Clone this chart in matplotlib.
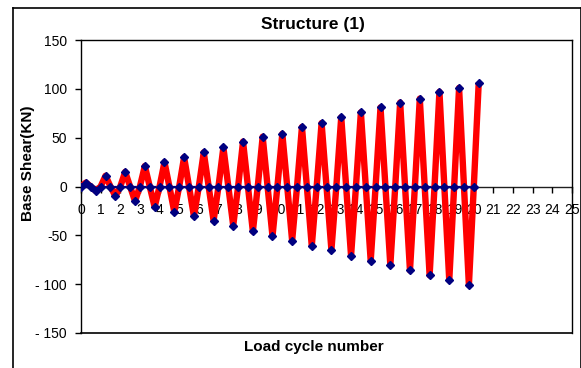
import numpy as np
import matplotlib
matplotlib.use("Agg")
import matplotlib.pyplot as plt
from matplotlib.lines import Line2D

plt.rcParams['font.family'] = ['Liberation Sans', 'DejaVu Sans']

# ---- data ----
cycles = list(range(21))                      # load cycle index 0..20
pos_peak = [4, 11, 15, 21, 25, 30, 35, 40, 46, 51, 54, 61, 65, 71, 76, 81, 86, 90, 97, 101, 106]
neg_peak = [-4.5, -10, -15, -21, -26, -30.5, -35, -40, -46, -51, -55.5, -61, -65, -71, -76, -80.5, -86, -91, -96, -101]
x_ticks = list(range(0, 26))
y_ticks = [-150, -100, -50, 0, 50, 100, 150]
y_tick_labels = ['- 150', '- 100', '-50', '0', '50', '100', '150']

# build the load path: 0 -> +peak -> 0 -> -peak -> 0 per cycle
xs, ys = [], []
for k in cycles:
    xs.append(k); ys.append(0)
    xs.append(k + 0.25); ys.append(pos_peak[k])
    if k < len(neg_peak):
        xs.append(k + 0.5); ys.append(0)
        xs.append(k + 0.75); ys.append(neg_peak[k])
xs = np.array(xs); ys = np.array(ys)

W, H = 581, 368
fig = plt.figure(figsize=(W / 100, H / 100), dpi=100)
fig.patch.set_facecolor('white')

# chart area border
for (x0, y0, x1, y1) in [(13, 8, 580.5, 8), (13, 8, 13, 370), (580.5, 8, 580.5, 370)]:
    fig.add_artist(Line2D([x0 / W, x1 / W], [1 - y0 / H, 1 - y1 / H],
                          color='black', lw=1.2, transform=fig.transFigure))

L, R, T, B = 81, 572, 40, 333
ax = fig.add_axes([L / W, 1 - B / H, (R - L) / W, (B - T) / H])
ax.set_xlim(0, 25)
ax.set_ylim(-150, 150)

# zero line (navy) under data
ax.plot([0, 20], [0, 0], color='#000080', lw=1.6, zorder=2)
# red load path
ax.plot(xs, ys, color='#ff0000', lw=4.6, solid_joinstyle='round',
        solid_capstyle='butt', zorder=3)
# navy markers
ax.plot(xs, ys, ls='none', marker='D', ms=4.5, color='#000080', zorder=4)

# axes styling
for s in ['top', 'right', 'left']:
    ax.spines[s].set_color('black')
    ax.spines[s].set_linewidth(1.0)
ax.spines['bottom'].set_position(('data', 0))
ax.spines['bottom'].set_color('#202020')
ax.spines['bottom'].set_linewidth(1.0)
ax.spines['bottom'].set_zorder(1)
# bottom frame of plot area
ax.add_artist(Line2D([0, 1], [0, 0], transform=ax.transAxes, color='black', lw=1.2, clip_on=False))

ax.set_xticks(x_ticks)
ax.set_xticklabels([str(v) for v in x_ticks])
ax.set_yticks(y_ticks)
ax.set_yticklabels(y_tick_labels)
ax.tick_params(axis='x', direction='out', length=4, width=1, pad=8, labelsize=10)
ax.tick_params(axis='y', direction='out', length=4, width=1, pad=6, labelsize=10)
for lab in ax.get_xticklabels():
    lab.set_zorder(1)

fig.text(312.5 / W, 1 - 24 / H, 'Structure (1)', ha='center', va='center',
         fontsize=12.5, fontweight='bold')
fig.text(28 / W, 1 - 163.5 / H, 'Base Shear(KN)', ha='center', va='center',
         rotation=90, fontsize=11, fontweight='bold')
fig.text(314 / W, 1 - 346.5 / H, 'Load cycle number', ha='center', va='center',
         fontsize=11, fontweight='bold')

fig.savefig('out.png', dpi=100, facecolor='white')
